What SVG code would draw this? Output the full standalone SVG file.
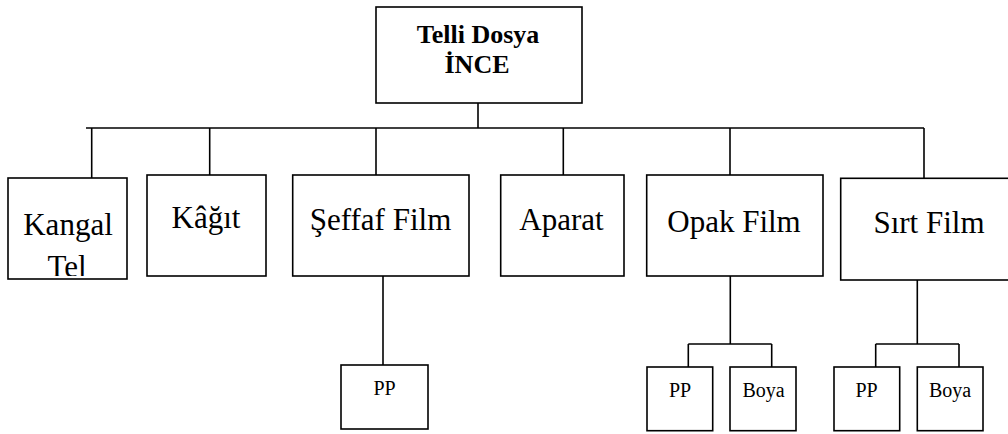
<svg xmlns="http://www.w3.org/2000/svg" width="1008" height="434" viewBox="0 0 1008 434">
  <style>
    .box { fill: #ffffff; stroke: #000000; stroke-width: 1.6; }
    .wire { fill: none; stroke: #000000; stroke-width: 1.6; }
    .lbl { font-family: 'Liberation Serif', 'Times New Roman', Times, 'DejaVu Serif', serif; fill: #000000; text-anchor: middle; }
    .root { font-size: 26px; font-weight: bold; }
    .main { font-size: 31px; }
    .sub { font-size: 20px; }
  </style>
  <defs>
    <!-- second line of the Kangal label is cut off by its box -->
    <clipPath id="kangal-clip">
      <rect x="8" y="178" width="119" height="98"/>
    </clipPath>
  </defs>
  <rect width="1008" height="434" fill="#ffffff"/>

  <!-- connectors -->
  <g id="connectors" class="wire">
    <path d="M478 103 V128"/>
    <path d="M86 128 H924"/>
    <path d="M91.7 128 V178"/>
    <path d="M209.7 128 V175"/>
    <path d="M376 128 V175"/>
    <path d="M563.3 128 V175"/>
    <path d="M730 128 V175"/>
    <path d="M924 128 V178"/>
    <path d="M383 270 V365"/>
    <path d="M730.3 276 V344 M688.3 344 H771.7 M688.3 344 V367 M771.7 344 V367"/>
    <path d="M917.3 280 V344 M875.7 344 H959 M875.7 344 V367 M959 344 V367"/>
  </g>

  <g id="node-root">
    <rect class="box" x="376" y="7" width="206" height="96"/>
    <text class="lbl root" x="478" y="43">Telli Dosya</text>
    <text class="lbl root" x="477" y="73">İNCE</text>
  </g>

  <g id="node-kangal">
    <rect class="box" x="8" y="178" width="119" height="101"/>
    <g clip-path="url(#kangal-clip)">
      <text class="lbl main" x="68" y="235">Kangal</text>
      <text class="lbl main" x="67" y="277">Tel</text>
    </g>
  </g>

  <g id="node-kagit">
    <rect class="box" x="147" y="175" width="119" height="101"/>
    <text class="lbl main" x="206" y="228">Kâğıt</text>
  </g>

  <g id="node-seffaf">
    <rect class="box" x="292.7" y="175" width="176.3" height="101"/>
    <text class="lbl main" x="380.5" y="230">Şeffaf Film</text>
  </g>

  <g id="node-aparat">
    <rect class="box" x="500.7" y="175" width="123.3" height="101"/>
    <text class="lbl main" x="561.5" y="230">Aparat</text>
  </g>

  <g id="node-opak">
    <rect class="box" x="646.7" y="175" width="176.3" height="101"/>
    <text class="lbl main" x="734" y="231.5">Opak Film</text>
  </g>

  <g id="node-sirt">
    <rect class="box" x="840.7" y="178.3" width="180" height="101.7"/>
    <text class="lbl main" x="929" y="233">Sırt Film</text>
  </g>

  <g id="node-seffaf-pp">
    <rect class="box" x="341" y="365" width="87" height="64"/>
    <text class="lbl sub" x="384.5" y="395">PP</text>
  </g>

  <g id="node-opak-pp">
    <rect class="box" x="647" y="367" width="65.7" height="63.7"/>
    <text class="lbl sub" x="680" y="396.5">PP</text>
  </g>

  <g id="node-opak-boya">
    <rect class="box" x="730" y="367" width="66" height="63.7"/>
    <text class="lbl sub" x="763.5" y="396.5">Boya</text>
  </g>

  <g id="node-sirt-pp">
    <rect class="box" x="834" y="367" width="65.7" height="63.7"/>
    <text class="lbl sub" x="866.5" y="396.5">PP</text>
  </g>

  <g id="node-sirt-boya">
    <rect class="box" x="917.3" y="367" width="65.7" height="63.7"/>
    <text class="lbl sub" x="950" y="396.5">Boya</text>
  </g>
</svg>
